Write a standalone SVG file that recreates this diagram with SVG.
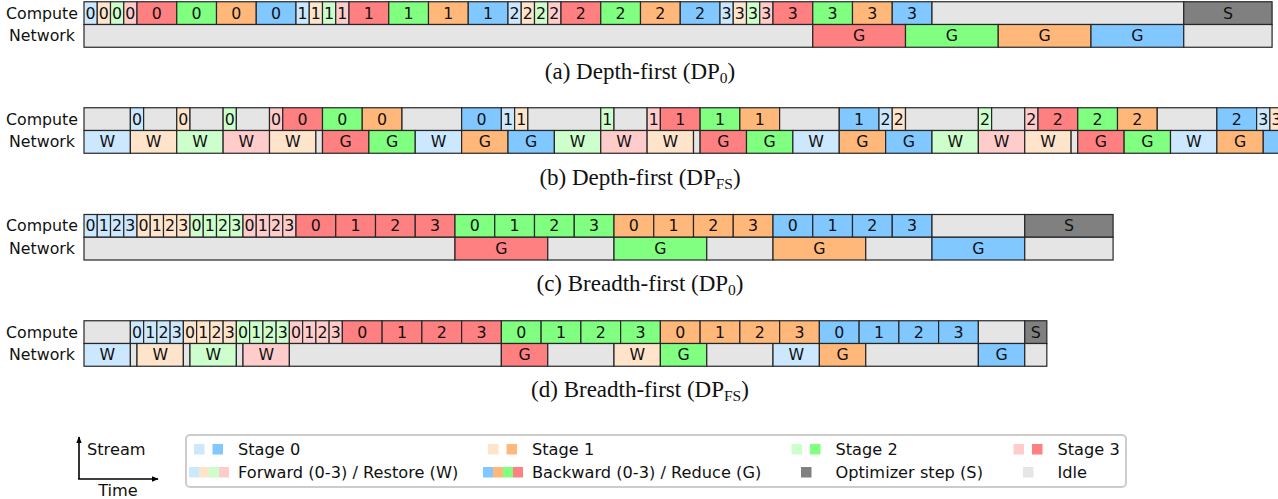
<svg xmlns="http://www.w3.org/2000/svg" width="1278" height="499" viewBox="0 0 1278 499">
<style>
rect.c{stroke:#262626;stroke-width:1.2}
.lb{fill:#cce8ff}.lo{fill:#ffe4cc}.lg{fill:#ccffcc}.lp{fill:#ffcccc}
.b{fill:#80c8ff}.o{fill:#ffb87a}.g{fill:#80ff80}.r{fill:#ff8080}
.i{fill:#e5e5e5}.s{fill:#808080}
text{font-family:"DejaVu Sans",Verdana,sans-serif;font-size:15.8px;fill:#111}
text.m{text-anchor:middle}
text.cap{font-family:"Liberation Serif","Times New Roman",serif;font-size:23px;text-anchor:middle}
#legend text,#axes text{font-size:16.2px}
.ax{stroke:#000;stroke-width:1.6;fill:none}
</style>
<defs>
<marker id="ah" viewBox="0 0 10 10" refX="9" refY="5" markerWidth="7" markerHeight="7" orient="auto" markerUnits="userSpaceOnUse"><path d="M0,1 L10,5 L0,9 z" fill="#000"/></marker>
</defs>

<g id="chart-a">
<text class="m" x="42" y="18.6">Compute</text>
<text class="m" x="42" y="41.4">Network</text>
<g id="a-compute">
<rect class="c lb" x="84" y="1.75" width="13.25" height="22.75"/><rect class="c lo" x="97.25" y="1.75" width="13.25" height="22.75"/><rect class="c lg" x="110.5" y="1.75" width="13.25" height="22.75"/><rect class="c lp" x="123.75" y="1.75" width="13.25" height="22.75"/>
<rect class="c r" x="137" y="1.75" width="39.75" height="22.75"/><rect class="c g" x="176.75" y="1.75" width="39.75" height="22.75"/><rect class="c o" x="216.5" y="1.75" width="39.75" height="22.75"/><rect class="c b" x="256.25" y="1.75" width="39.75" height="22.75"/>
<rect class="c lb" x="296" y="1.75" width="13.25" height="22.75"/><rect class="c lo" x="309.25" y="1.75" width="13.25" height="22.75"/><rect class="c lg" x="322.5" y="1.75" width="13.25" height="22.75"/><rect class="c lp" x="335.75" y="1.75" width="13.25" height="22.75"/>
<rect class="c r" x="349" y="1.75" width="39.75" height="22.75"/><rect class="c g" x="388.75" y="1.75" width="39.75" height="22.75"/><rect class="c o" x="428.5" y="1.75" width="39.75" height="22.75"/><rect class="c b" x="468.25" y="1.75" width="39.75" height="22.75"/>
<rect class="c lb" x="508" y="1.75" width="13.25" height="22.75"/><rect class="c lo" x="521.25" y="1.75" width="13.25" height="22.75"/><rect class="c lg" x="534.5" y="1.75" width="13.25" height="22.75"/><rect class="c lp" x="547.75" y="1.75" width="13.25" height="22.75"/>
<rect class="c r" x="561" y="1.75" width="39.75" height="22.75"/><rect class="c g" x="600.75" y="1.75" width="39.75" height="22.75"/><rect class="c o" x="640.5" y="1.75" width="39.75" height="22.75"/><rect class="c b" x="680.25" y="1.75" width="39.75" height="22.75"/>
<rect class="c lb" x="720" y="1.75" width="13.25" height="22.75"/><rect class="c lo" x="733.25" y="1.75" width="13.25" height="22.75"/><rect class="c lg" x="746.5" y="1.75" width="13.25" height="22.75"/><rect class="c lp" x="759.75" y="1.75" width="13.25" height="22.75"/>
<rect class="c r" x="773" y="1.75" width="39.75" height="22.75"/><rect class="c g" x="812.75" y="1.75" width="39.75" height="22.75"/><rect class="c o" x="852.5" y="1.75" width="39.75" height="22.75"/><rect class="c b" x="892.25" y="1.75" width="39.75" height="22.75"/>
<rect class="c i" x="932" y="1.75" width="251.75" height="22.75"/><rect class="c s" x="1183.75" y="1.75" width="88.33" height="22.75"/>
<text class="m" x="90.625" y="18.6">0</text><text class="m" x="103.875" y="18.6">0</text><text class="m" x="117.125" y="18.6">0</text><text class="m" x="130.375" y="18.6">0</text>
<text class="m" x="156.875" y="18.6">0</text><text class="m" x="196.625" y="18.6">0</text><text class="m" x="236.375" y="18.6">0</text><text class="m" x="276.125" y="18.6">0</text>
<text class="m" x="302.625" y="18.6">1</text><text class="m" x="315.875" y="18.6">1</text><text class="m" x="329.125" y="18.6">1</text><text class="m" x="342.375" y="18.6">1</text>
<text class="m" x="368.875" y="18.6">1</text><text class="m" x="408.625" y="18.6">1</text><text class="m" x="448.375" y="18.6">1</text><text class="m" x="488.125" y="18.6">1</text>
<text class="m" x="514.625" y="18.6">2</text><text class="m" x="527.875" y="18.6">2</text><text class="m" x="541.125" y="18.6">2</text><text class="m" x="554.375" y="18.6">2</text>
<text class="m" x="580.875" y="18.6">2</text><text class="m" x="620.625" y="18.6">2</text><text class="m" x="660.375" y="18.6">2</text><text class="m" x="700.125" y="18.6">2</text>
<text class="m" x="726.625" y="18.6">3</text><text class="m" x="739.875" y="18.6">3</text><text class="m" x="753.125" y="18.6">3</text><text class="m" x="766.375" y="18.6">3</text>
<text class="m" x="792.875" y="18.6">3</text><text class="m" x="832.625" y="18.6">3</text><text class="m" x="872.375" y="18.6">3</text><text class="m" x="912.125" y="18.6">3</text>
<text class="m" x="1227.9" y="18.6">S</text>
</g>
<g id="a-network">
<rect class="c i" x="84" y="24.5" width="728.75" height="22.75"/>
<rect class="c r" x="812.75" y="24.5" width="92.75" height="22.75"/><rect class="c g" x="905.5" y="24.5" width="92.75" height="22.75"/><rect class="c o" x="998.25" y="24.5" width="92.75" height="22.75"/><rect class="c b" x="1091" y="24.5" width="92.75" height="22.75"/>
<rect class="c i" x="1183.75" y="24.5" width="88.33" height="22.75"/>
<text class="m" x="859.125" y="41.4">G</text><text class="m" x="951.875" y="41.4">G</text><text class="m" x="1044.625" y="41.4">G</text><text class="m" x="1137.375" y="41.4">G</text>
</g>
<text class="cap" x="640" y="79">(a) Depth-first (DP<tspan font-size="15.5" dy="4">0</tspan><tspan dy="-4">)</tspan></text>
</g>

<g id="chart-b">
<text class="m" x="42" y="124.6">Compute</text>
<text class="m" x="42" y="147.4">Network</text>
<g id="b-compute">
<rect class="c i" x="84" y="107.75" width="46.375" height="22.75"/>
<rect class="c lb" x="130.375" y="107.75" width="13.25" height="22.75"/>
<rect class="c i" x="143.625" y="107.75" width="33.125" height="22.75"/>
<rect class="c lo" x="176.75" y="107.75" width="13.25" height="22.75"/>
<rect class="c i" x="190" y="107.75" width="33.125" height="22.75"/>
<rect class="c lg" x="223.125" y="107.75" width="13.25" height="22.75"/>
<rect class="c i" x="236.375" y="107.75" width="33.125" height="22.75"/>
<rect class="c lp" x="269.5" y="107.75" width="13.25" height="22.75"/>
<rect class="c r" x="282.75" y="107.75" width="39.75" height="22.75"/><rect class="c g" x="322.5" y="107.75" width="39.75" height="22.75"/><rect class="c o" x="362.25" y="107.75" width="39.75" height="22.75"/>
<rect class="c i" x="402" y="107.75" width="59.625" height="22.75"/>
<rect class="c b" x="461.625" y="107.75" width="39.75" height="22.75"/>
<rect class="c lb" x="501.375" y="107.75" width="13.25" height="22.75"/><rect class="c lo" x="514.625" y="107.75" width="13.25" height="22.75"/>
<rect class="c i" x="527.875" y="107.75" width="72.875" height="22.75"/>
<rect class="c lg" x="600.75" y="107.75" width="13.25" height="22.75"/>
<rect class="c i" x="614" y="107.75" width="33.125" height="22.75"/>
<rect class="c lp" x="647.125" y="107.75" width="13.25" height="22.75"/>
<rect class="c r" x="660.375" y="107.75" width="39.75" height="22.75"/><rect class="c g" x="700.125" y="107.75" width="39.75" height="22.75"/><rect class="c o" x="739.875" y="107.75" width="39.75" height="22.75"/>
<rect class="c i" x="779.625" y="107.75" width="59.625" height="22.75"/>
<rect class="c b" x="839.25" y="107.75" width="39.75" height="22.75"/>
<rect class="c lb" x="879" y="107.75" width="13.25" height="22.75"/><rect class="c lo" x="892.25" y="107.75" width="13.25" height="22.75"/>
<rect class="c i" x="905.5" y="107.75" width="72.875" height="22.75"/>
<rect class="c lg" x="978.375" y="107.75" width="13.25" height="22.75"/>
<rect class="c i" x="991.625" y="107.75" width="33.125" height="22.75"/>
<rect class="c lp" x="1024.75" y="107.75" width="13.25" height="22.75"/>
<rect class="c r" x="1038" y="107.75" width="39.75" height="22.75"/><rect class="c g" x="1077.75" y="107.75" width="39.75" height="22.75"/><rect class="c o" x="1117.5" y="107.75" width="39.75" height="22.75"/>
<rect class="c i" x="1157.25" y="107.75" width="59.625" height="22.75"/>
<rect class="c b" x="1216.875" y="107.75" width="39.75" height="22.75"/>
<rect class="c lb" x="1256.625" y="107.75" width="13.25" height="22.75"/><rect class="c lo" x="1269.875" y="107.75" width="13.25" height="22.75"/>
<text class="m" x="137" y="124.6">0</text><text class="m" x="183.375" y="124.6">0</text><text class="m" x="229.75" y="124.6">0</text><text class="m" x="276.125" y="124.6">0</text>
<text class="m" x="302.625" y="124.6">0</text><text class="m" x="342.375" y="124.6">0</text><text class="m" x="382.125" y="124.6">0</text><text class="m" x="481.5" y="124.6">0</text>
<text class="m" x="508" y="124.6">1</text><text class="m" x="521.25" y="124.6">1</text><text class="m" x="607.375" y="124.6">1</text><text class="m" x="653.75" y="124.6">1</text>
<text class="m" x="680.25" y="124.6">1</text><text class="m" x="720" y="124.6">1</text><text class="m" x="759.75" y="124.6">1</text><text class="m" x="859.125" y="124.6">1</text>
<text class="m" x="885.625" y="124.6">2</text><text class="m" x="898.875" y="124.6">2</text><text class="m" x="985" y="124.6">2</text><text class="m" x="1031.375" y="124.6">2</text>
<text class="m" x="1057.875" y="124.6">2</text><text class="m" x="1097.625" y="124.6">2</text><text class="m" x="1137.375" y="124.6">2</text><text class="m" x="1236.75" y="124.6">2</text>
<text class="m" x="1263.25" y="124.6">3</text><text class="m" x="1276.5" y="124.6">3</text>
</g>
<g id="b-network">
<rect class="c lb" x="84" y="130.5" width="46.375" height="22.75"/><rect class="c lo" x="130.375" y="130.5" width="46.375" height="22.75"/><rect class="c lg" x="176.75" y="130.5" width="46.375" height="22.75"/><rect class="c lp" x="223.125" y="130.5" width="46.375" height="22.75"/><rect class="c lo" x="269.5" y="130.5" width="46.375" height="22.75"/>
<rect class="c i" x="315.875" y="130.5" width="6.625" height="22.75"/>
<rect class="c r" x="322.5" y="130.5" width="46.375" height="22.75"/><rect class="c g" x="368.875" y="130.5" width="46.375" height="22.75"/><rect class="c lb" x="415.25" y="130.5" width="46.375" height="22.75"/>
<rect class="c o" x="461.625" y="130.5" width="46.375" height="22.75"/><rect class="c b" x="508" y="130.5" width="46.375" height="22.75"/>
<rect class="c lg" x="554.375" y="130.5" width="46.375" height="22.75"/><rect class="c lp" x="600.75" y="130.5" width="46.375" height="22.75"/><rect class="c lo" x="647.125" y="130.5" width="46.375" height="22.75"/>
<rect class="c i" x="693.5" y="130.5" width="6.625" height="22.75"/>
<rect class="c r" x="700.125" y="130.5" width="46.375" height="22.75"/><rect class="c g" x="746.5" y="130.5" width="46.375" height="22.75"/><rect class="c lb" x="792.875" y="130.5" width="46.375" height="22.75"/>
<rect class="c o" x="839.25" y="130.5" width="46.375" height="22.75"/><rect class="c b" x="885.625" y="130.5" width="46.375" height="22.75"/>
<rect class="c lg" x="932" y="130.5" width="46.375" height="22.75"/><rect class="c lp" x="978.375" y="130.5" width="46.375" height="22.75"/><rect class="c lo" x="1024.75" y="130.5" width="46.375" height="22.75"/>
<rect class="c i" x="1071.125" y="130.5" width="6.625" height="22.75"/>
<rect class="c r" x="1077.75" y="130.5" width="46.375" height="22.75"/><rect class="c g" x="1124.125" y="130.5" width="46.375" height="22.75"/><rect class="c lb" x="1170.5" y="130.5" width="46.375" height="22.75"/>
<rect class="c o" x="1216.875" y="130.5" width="46.375" height="22.75"/><rect class="c b" x="1263.25" y="130.5" width="46.375" height="22.75"/>
<text class="m" x="107.19" y="147.4">W</text><text class="m" x="153.56" y="147.4">W</text><text class="m" x="199.94" y="147.4">W</text><text class="m" x="246.31" y="147.4">W</text><text class="m" x="292.69" y="147.4">W</text>
<text class="m" x="345.69" y="147.4">G</text><text class="m" x="392.06" y="147.4">G</text><text class="m" x="438.44" y="147.4">W</text><text class="m" x="484.81" y="147.4">G</text><text class="m" x="531.19" y="147.4">G</text>
<text class="m" x="577.56" y="147.4">W</text><text class="m" x="623.94" y="147.4">W</text><text class="m" x="670.31" y="147.4">W</text>
<text class="m" x="723.31" y="147.4">G</text><text class="m" x="769.69" y="147.4">G</text><text class="m" x="816.06" y="147.4">W</text><text class="m" x="862.44" y="147.4">G</text><text class="m" x="908.81" y="147.4">G</text>
<text class="m" x="955.19" y="147.4">W</text><text class="m" x="1001.56" y="147.4">W</text><text class="m" x="1047.94" y="147.4">W</text>
<text class="m" x="1100.94" y="147.4">G</text><text class="m" x="1147.31" y="147.4">G</text><text class="m" x="1193.69" y="147.4">W</text><text class="m" x="1240.06" y="147.4">G</text>
</g>
<text class="cap" x="640" y="185">(b) Depth-first (DP<tspan font-size="15.5" dy="4">FS</tspan><tspan dy="-4">)</tspan></text>
</g>

<g id="chart-c">
<text class="m" x="42" y="231.4">Compute</text>
<text class="m" x="42" y="254.1">Network</text>
<g id="c-compute">
<rect class="c lb" x="84" y="214.5" width="13.25" height="22.75"/><rect class="c lb" x="97.25" y="214.5" width="13.25" height="22.75"/><rect class="c lb" x="110.5" y="214.5" width="13.25" height="22.75"/><rect class="c lb" x="123.75" y="214.5" width="13.25" height="22.75"/>
<rect class="c lo" x="137" y="214.5" width="13.25" height="22.75"/><rect class="c lo" x="150.25" y="214.5" width="13.25" height="22.75"/><rect class="c lo" x="163.5" y="214.5" width="13.25" height="22.75"/><rect class="c lo" x="176.75" y="214.5" width="13.25" height="22.75"/>
<rect class="c lg" x="190" y="214.5" width="13.25" height="22.75"/><rect class="c lg" x="203.25" y="214.5" width="13.25" height="22.75"/><rect class="c lg" x="216.5" y="214.5" width="13.25" height="22.75"/><rect class="c lg" x="229.75" y="214.5" width="13.25" height="22.75"/>
<rect class="c lp" x="243" y="214.5" width="13.25" height="22.75"/><rect class="c lp" x="256.25" y="214.5" width="13.25" height="22.75"/><rect class="c lp" x="269.5" y="214.5" width="13.25" height="22.75"/><rect class="c lp" x="282.75" y="214.5" width="13.25" height="22.75"/>
<rect class="c r" x="296" y="214.5" width="39.75" height="22.75"/><rect class="c r" x="335.75" y="214.5" width="39.75" height="22.75"/><rect class="c r" x="375.5" y="214.5" width="39.75" height="22.75"/><rect class="c r" x="415.25" y="214.5" width="39.75" height="22.75"/>
<rect class="c g" x="455" y="214.5" width="39.75" height="22.75"/><rect class="c g" x="494.75" y="214.5" width="39.75" height="22.75"/><rect class="c g" x="534.5" y="214.5" width="39.75" height="22.75"/><rect class="c g" x="574.25" y="214.5" width="39.75" height="22.75"/>
<rect class="c o" x="614" y="214.5" width="39.75" height="22.75"/><rect class="c o" x="653.75" y="214.5" width="39.75" height="22.75"/><rect class="c o" x="693.5" y="214.5" width="39.75" height="22.75"/><rect class="c o" x="733.25" y="214.5" width="39.75" height="22.75"/>
<rect class="c b" x="773" y="214.5" width="39.75" height="22.75"/><rect class="c b" x="812.75" y="214.5" width="39.75" height="22.75"/><rect class="c b" x="852.5" y="214.5" width="39.75" height="22.75"/><rect class="c b" x="892.25" y="214.5" width="39.75" height="22.75"/>
<rect class="c i" x="932" y="214.5" width="92.75" height="22.75"/><rect class="c s" x="1024.75" y="214.5" width="88.33" height="22.75"/>
<text class="m" x="90.625" y="231.4">0</text><text class="m" x="103.875" y="231.4">1</text><text class="m" x="117.125" y="231.4">2</text><text class="m" x="130.375" y="231.4">3</text>
<text class="m" x="143.625" y="231.4">0</text><text class="m" x="156.875" y="231.4">1</text><text class="m" x="170.125" y="231.4">2</text><text class="m" x="183.375" y="231.4">3</text>
<text class="m" x="196.625" y="231.4">0</text><text class="m" x="209.875" y="231.4">1</text><text class="m" x="223.125" y="231.4">2</text><text class="m" x="236.375" y="231.4">3</text>
<text class="m" x="249.625" y="231.4">0</text><text class="m" x="262.875" y="231.4">1</text><text class="m" x="276.125" y="231.4">2</text><text class="m" x="289.375" y="231.4">3</text>
<text class="m" x="315.875" y="231.4">0</text><text class="m" x="355.625" y="231.4">1</text><text class="m" x="395.375" y="231.4">2</text><text class="m" x="435.125" y="231.4">3</text>
<text class="m" x="474.875" y="231.4">0</text><text class="m" x="514.625" y="231.4">1</text><text class="m" x="554.375" y="231.4">2</text><text class="m" x="594.125" y="231.4">3</text>
<text class="m" x="633.875" y="231.4">0</text><text class="m" x="673.625" y="231.4">1</text><text class="m" x="713.375" y="231.4">2</text><text class="m" x="753.125" y="231.4">3</text>
<text class="m" x="792.875" y="231.4">0</text><text class="m" x="832.625" y="231.4">1</text><text class="m" x="872.375" y="231.4">2</text><text class="m" x="912.125" y="231.4">3</text>
<text class="m" x="1068.9" y="231.4">S</text>
</g>
<g id="c-network">
<rect class="c i" x="84" y="237.25" width="371" height="22.75"/>
<rect class="c r" x="455" y="237.25" width="92.75" height="22.75"/>
<rect class="c i" x="547.75" y="237.25" width="66.25" height="22.75"/>
<rect class="c g" x="614" y="237.25" width="92.75" height="22.75"/>
<rect class="c i" x="706.75" y="237.25" width="66.25" height="22.75"/>
<rect class="c o" x="773" y="237.25" width="92.75" height="22.75"/>
<rect class="c i" x="865.75" y="237.25" width="66.25" height="22.75"/>
<rect class="c b" x="932" y="237.25" width="92.75" height="22.75"/>
<rect class="c i" x="1024.75" y="237.25" width="88.33" height="22.75"/>
<text class="m" x="501.375" y="254.1">G</text><text class="m" x="660.375" y="254.1">G</text><text class="m" x="819.375" y="254.1">G</text><text class="m" x="978.375" y="254.1">G</text>
</g>
<text class="cap" x="640" y="291">(c) Breadth-first (DP<tspan font-size="15.5" dy="4">0</tspan><tspan dy="-4">)</tspan></text>
</g>

<g id="chart-d">
<text class="m" x="42" y="337.6">Compute</text>
<text class="m" x="42" y="360.4">Network</text>
<g id="d-compute">
<rect class="c i" x="84" y="320.75" width="46.375" height="22.75"/>
<rect class="c lb" x="130.375" y="320.75" width="13.25" height="22.75"/><rect class="c lb" x="143.625" y="320.75" width="13.25" height="22.75"/><rect class="c lb" x="156.875" y="320.75" width="13.25" height="22.75"/><rect class="c lb" x="170.125" y="320.75" width="13.25" height="22.75"/>
<rect class="c lo" x="183.375" y="320.75" width="13.25" height="22.75"/><rect class="c lo" x="196.625" y="320.75" width="13.25" height="22.75"/><rect class="c lo" x="209.875" y="320.75" width="13.25" height="22.75"/><rect class="c lo" x="223.125" y="320.75" width="13.25" height="22.75"/>
<rect class="c lg" x="236.375" y="320.75" width="13.25" height="22.75"/><rect class="c lg" x="249.625" y="320.75" width="13.25" height="22.75"/><rect class="c lg" x="262.875" y="320.75" width="13.25" height="22.75"/><rect class="c lg" x="276.125" y="320.75" width="13.25" height="22.75"/>
<rect class="c lp" x="289.375" y="320.75" width="13.25" height="22.75"/><rect class="c lp" x="302.625" y="320.75" width="13.25" height="22.75"/><rect class="c lp" x="315.875" y="320.75" width="13.25" height="22.75"/><rect class="c lp" x="329.125" y="320.75" width="13.25" height="22.75"/>
<rect class="c r" x="342.375" y="320.75" width="39.75" height="22.75"/><rect class="c r" x="382.125" y="320.75" width="39.75" height="22.75"/><rect class="c r" x="421.875" y="320.75" width="39.75" height="22.75"/><rect class="c r" x="461.625" y="320.75" width="39.75" height="22.75"/>
<rect class="c g" x="501.375" y="320.75" width="39.75" height="22.75"/><rect class="c g" x="541.125" y="320.75" width="39.75" height="22.75"/><rect class="c g" x="580.875" y="320.75" width="39.75" height="22.75"/><rect class="c g" x="620.625" y="320.75" width="39.75" height="22.75"/>
<rect class="c o" x="660.375" y="320.75" width="39.75" height="22.75"/><rect class="c o" x="700.125" y="320.75" width="39.75" height="22.75"/><rect class="c o" x="739.875" y="320.75" width="39.75" height="22.75"/><rect class="c o" x="779.625" y="320.75" width="39.75" height="22.75"/>
<rect class="c b" x="819.375" y="320.75" width="39.75" height="22.75"/><rect class="c b" x="859.125" y="320.75" width="39.75" height="22.75"/><rect class="c b" x="898.875" y="320.75" width="39.75" height="22.75"/><rect class="c b" x="938.625" y="320.75" width="39.75" height="22.75"/>
<rect class="c i" x="978.375" y="320.75" width="46.375" height="22.75"/><rect class="c s" x="1024.75" y="320.75" width="22.08" height="22.75"/>
<text class="m" x="137" y="337.6">0</text><text class="m" x="150.25" y="337.6">1</text><text class="m" x="163.5" y="337.6">2</text><text class="m" x="176.75" y="337.6">3</text>
<text class="m" x="190" y="337.6">0</text><text class="m" x="203.25" y="337.6">1</text><text class="m" x="216.5" y="337.6">2</text><text class="m" x="229.75" y="337.6">3</text>
<text class="m" x="243" y="337.6">0</text><text class="m" x="256.25" y="337.6">1</text><text class="m" x="269.5" y="337.6">2</text><text class="m" x="282.75" y="337.6">3</text>
<text class="m" x="296" y="337.6">0</text><text class="m" x="309.25" y="337.6">1</text><text class="m" x="322.5" y="337.6">2</text><text class="m" x="335.75" y="337.6">3</text>
<text class="m" x="362.25" y="337.6">0</text><text class="m" x="402" y="337.6">1</text><text class="m" x="441.75" y="337.6">2</text><text class="m" x="481.5" y="337.6">3</text>
<text class="m" x="521.25" y="337.6">0</text><text class="m" x="561" y="337.6">1</text><text class="m" x="600.75" y="337.6">2</text><text class="m" x="640.5" y="337.6">3</text>
<text class="m" x="680.25" y="337.6">0</text><text class="m" x="720" y="337.6">1</text><text class="m" x="759.75" y="337.6">2</text><text class="m" x="799.5" y="337.6">3</text>
<text class="m" x="839.25" y="337.6">0</text><text class="m" x="879" y="337.6">1</text><text class="m" x="918.75" y="337.6">2</text><text class="m" x="958.5" y="337.6">3</text>
<text class="m" x="1035.79" y="337.6">S</text>
</g>
<g id="d-network">
<rect class="c lb" x="84" y="343.5" width="46.375" height="22.75"/>
<rect class="c i" x="130.375" y="343.5" width="6.625" height="22.75"/>
<rect class="c lo" x="137" y="343.5" width="46.375" height="22.75"/>
<rect class="c i" x="183.375" y="343.5" width="6.625" height="22.75"/>
<rect class="c lg" x="190" y="343.5" width="46.375" height="22.75"/>
<rect class="c i" x="236.375" y="343.5" width="6.625" height="22.75"/>
<rect class="c lp" x="243" y="343.5" width="46.375" height="22.75"/>
<rect class="c i" x="289.375" y="343.5" width="212" height="22.75"/>
<rect class="c r" x="501.375" y="343.5" width="46.375" height="22.75"/>
<rect class="c i" x="547.75" y="343.5" width="66.25" height="22.75"/>
<rect class="c lo" x="614" y="343.5" width="46.375" height="22.75"/>
<rect class="c g" x="660.375" y="343.5" width="46.375" height="22.75"/>
<rect class="c i" x="706.75" y="343.5" width="66.25" height="22.75"/>
<rect class="c lb" x="773" y="343.5" width="46.375" height="22.75"/>
<rect class="c o" x="819.375" y="343.5" width="46.375" height="22.75"/>
<rect class="c i" x="865.75" y="343.5" width="112.625" height="22.75"/>
<rect class="c b" x="978.375" y="343.5" width="46.375" height="22.75"/>
<rect class="c i" x="1024.75" y="343.5" width="22.08" height="22.75"/>
<text class="m" x="107.19" y="360.4">W</text><text class="m" x="160.19" y="360.4">W</text><text class="m" x="213.19" y="360.4">W</text><text class="m" x="266.19" y="360.4">W</text>
<text class="m" x="524.56" y="360.4">G</text><text class="m" x="637.19" y="360.4">W</text><text class="m" x="683.56" y="360.4">G</text><text class="m" x="796.19" y="360.4">W</text><text class="m" x="842.56" y="360.4">G</text><text class="m" x="1001.56" y="360.4">G</text>
</g>
<text class="cap" x="640" y="397">(d) Breadth-first (DP<tspan font-size="15.5" dy="4">FS</tspan><tspan dy="-4">)</tspan></text>
</g>

<g id="axes">
<line class="ax" x1="79" y1="479" x2="79" y2="437" marker-end="url(#ah)"/>
<line class="ax" x1="78.2" y1="479" x2="158" y2="479" marker-end="url(#ah)"/>
<text x="87" y="455">Stream</text>
<text class="m" x="118" y="496">Time</text>
</g>

<g id="legend">
<rect x="186" y="435" width="940" height="52" rx="4" fill="#fff" stroke="#cccccc" stroke-width="2"/>
<rect class="lb" x="194" y="444" width="10.5" height="10.5"/><rect class="b" x="212.5" y="444" width="10.5" height="10.5"/>
<text x="238" y="455">Stage 0</text>
<rect class="lb" x="189" y="467" width="10" height="10.5"/><rect class="lo" x="199" y="467" width="10" height="10.5"/><rect class="lg" x="209" y="467" width="10" height="10.5"/><rect class="lp" x="219" y="467" width="10" height="10.5"/>
<text x="238" y="478">Forward (0-3) / Restore (W)</text>
<rect class="lo" x="488" y="444" width="10.5" height="10.5"/><rect class="o" x="506.5" y="444" width="10.5" height="10.5"/>
<text x="532" y="455">Stage 1</text>
<rect class="b" x="483" y="467" width="10" height="10.5"/><rect class="o" x="493" y="467" width="10" height="10.5"/><rect class="g" x="503" y="467" width="10" height="10.5"/><rect class="r" x="513" y="467" width="10" height="10.5"/>
<text x="532" y="478">Backward (0-3) / Reduce (G)</text>
<rect class="lg" x="791.5" y="444" width="10.5" height="10.5"/><rect class="g" x="810" y="444" width="10.5" height="10.5"/>
<text x="835.5" y="455">Stage 2</text>
<rect class="s" x="801" y="467" width="10.5" height="10.5"/>
<text x="835.5" y="478">Optimizer step (S)</text>
<rect class="lp" x="1013.5" y="444" width="10.5" height="10.5"/><rect class="r" x="1032" y="444" width="10.5" height="10.5"/>
<text x="1057.5" y="455">Stage 3</text>
<rect class="i" x="1023" y="467" width="10.5" height="10.5"/>
<text x="1057.5" y="478">Idle</text>
</g>
</svg>
